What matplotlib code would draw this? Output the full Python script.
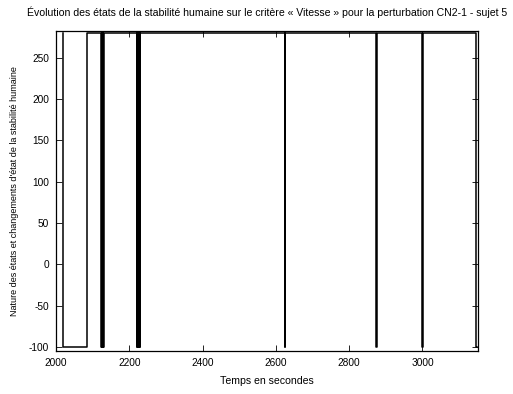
import matplotlib
matplotlib.use('Agg')
import matplotlib.pyplot as plt

# instants de changement d'etat (s) et niveau de l'etat a partir de cet instant
temps = [2018, 2018.6, 2085, 2123, 2124.4, 2125.8, 2127.2, 2128.6, 2130,
         2220, 2221.4, 2222.8, 2224.2, 2225.6, 2227, 2228.4, 2229.6,
         2625, 2625.8, 2874.5, 2875.8, 3000, 3000.8, 3146, 3150]
etat = [280, -100, 280, -100, 280, -100, 280, -100, 280,
        -100, 280, -100, 280, -100, 280, -100, 280,
        -100, 280, -100, 280, -100, 280, -100, -100]

x_ticks = [2000, 2200, 2400, 2600, 2800, 3000]
y_ticks = [-100, -50, 0, 50, 100, 150, 200, 250]

plt.rcParams['font.family'] = ['Liberation Sans', 'DejaVu Sans']
plt.rcParams['axes.unicode_minus'] = False

fig = plt.figure(figsize=(5.13, 3.94), dpi=100)
ax = fig.add_axes([0.109, 0.109, 0.823, 0.812])

ax.step(temps, etat, where='post', color='black', linewidth=1.1)

ax.set_xlim(2000, 3152)
ax.set_ylim(-105, 282)
ax.set_xticks(x_ticks)
ax.set_yticks(y_ticks)
ax.tick_params(direction='in', top=True, right=True, length=4, width=0.6,
               labelsize=7.3, pad=5)
for s in ax.spines.values():
    s.set_linewidth(0.9)

ax.set_title("Évolution des états de la stabilité humaine sur le critère « Vitesse » "
             "pour la perturbation CN2-1 - sujet 5", fontsize=7.6, pad=11)
ax.set_xlabel('Temps en secondes', fontsize=7.6, labelpad=6)
ax.set_ylabel("Nature des états et changements d'état de la stabilité humaine",
              fontsize=6.5, labelpad=7)

fig.savefig('out.png', dpi=100)
